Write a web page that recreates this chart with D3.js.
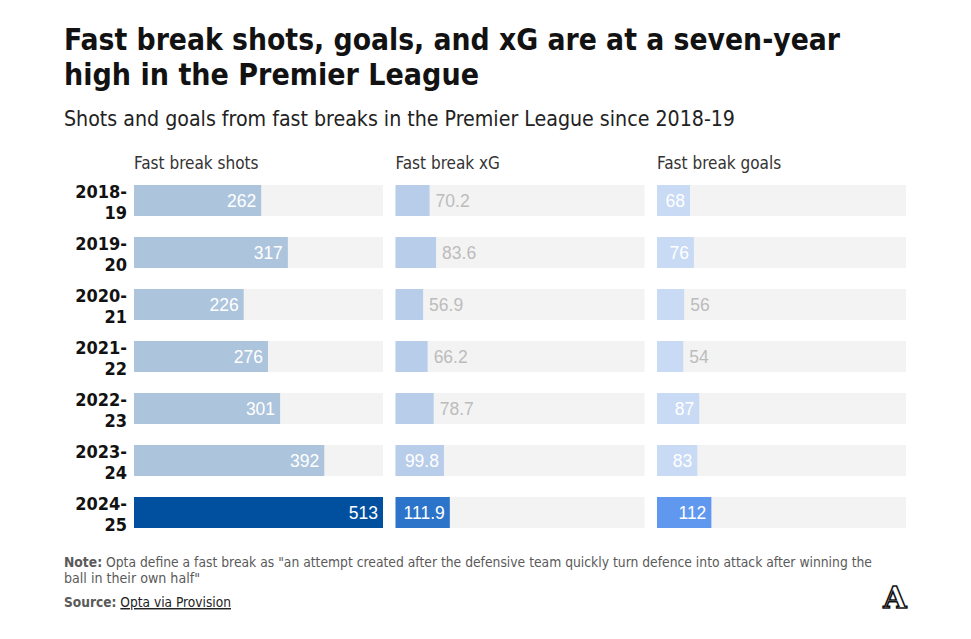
<!DOCTYPE html>
<html><head><meta charset="utf-8">
<script src="https://cdn.jsdelivr.net/npm/d3@7"></script>
<style>
body{margin:0;background:#fff;}
svg{display:block;}
</style></head>
<body>
<svg id="chart" width="971" height="639"></svg>
<script>
const seasons = ["2018-19","2019-20","2020-21","2021-22","2022-23","2023-24","2024-25"];
const shots = [262, 317, 226, 276, 301, 392, 513];
const xg = [70.2, 83.6, 56.9, 66.2, 78.7, 99.8, 111.9];
const goals = [68, 76, 56, 54, 87, 83, 112];
const xgLabels = ["70.2","83.6","56.9","66.2","78.7","99.8","111.9"];
const panelTitles = ["Fast break shots", "Fast break xG", "Fast break goals"];
const lightColors = ["#adc4dd", "#b8cde9", "#c8daf4"];
const darkColors = ["#00509f", "#2b74c9", "#5f98ee"];

const series = [
  {title: panelTitles[0], values: shots, labels: shots.map(String)},
  {title: panelTitles[1], values: xg, labels: xgLabels},
  {title: panelTitles[2], values: goals, labels: goals.map(String)}
];

const svg = d3.select("#chart");
const condensed = "'Liberation Sans Narrow', 'DejaVu Sans Condensed', sans-serif";

// fit a text element horizontally to a target width, keeping its height
function fit(sel, w) {
  const n = sel.node();
  if (n.getComputedTextLength() > 0) sel.attr("textLength", w).attr("lengthAdjust", "spacingAndGlyphs");
  return sel;
}

// Title
const t1 = svg.append("text").attr("x", 64).attr("y", 50)
  .attr("font-family", condensed).attr("font-weight", 700).attr("font-size", 30).attr("fill", "#121212")
  .text("Fast break shots, goals, and xG are at a seven-year");
fit(t1, 776);
const t2 = svg.append("text").attr("x", 64).attr("y", 85)
  .attr("font-family", condensed).attr("font-weight", 700).attr("font-size", 30).attr("fill", "#121212")
  .text("high in the Premier League");
fit(t2, 415);

const sub = svg.append("text").attr("x", 64).attr("y", 126)
  .attr("font-family", condensed).attr("font-size", 21.5).attr("fill", "#222")
  .text("Shots and goals from fast breaks in the Premier League since 2018-19");
fit(sub, 671);

const panelW = 249, panelGap = 12.5, panelX0 = 134;
const x = d3.scaleLinear().domain([0, d3.max(shots.concat(xg, goals))]).range([0, panelW]);
const y = d3.scaleBand().domain(seasons).range([185, 528]).paddingInner(21/52);
const px = d3.scaleBand().domain(d3.range(3)).range([panelX0, panelX0 + 3*panelW + 2*panelGap]).paddingInner(panelGap/(panelW+panelGap));

// Row labels
const rowG = svg.append("g");
seasons.forEach((s, i) => {
  const parts = s.split("-");
  const yc = y(s) + y.bandwidth()/2;
  rowG.append("text").attr("text-anchor", "end").attr("x", 127).attr("y", yc - 3)
    .attr("font-family", condensed).attr("font-weight", 700).attr("font-size", 18)
    .attr("fill", "#121212").text(parts[0] + "-");
  rowG.append("text").attr("text-anchor", "end").attr("x", 127).attr("y", yc + 18)
    .attr("font-family", condensed).attr("font-weight", 700).attr("font-size", 18)
    .attr("fill", "#121212").text(parts[1]);
});

const last = seasons[seasons.length - 1];

series.forEach((ser, k) => {
  const g = svg.append("g").attr("transform", `translate(${px(k)},0)`);
  g.append("text").attr("x", 0).attr("y", 169)
    .attr("font-family", condensed).attr("font-size", 17).attr("fill", "#333")
    .text(ser.title);
  const rows = g.selectAll("g.row").data(seasons.map((s, i) => ({s, v: ser.values[i], l: ser.labels[i]})))
    .join("g").attr("class", "row").attr("transform", d => `translate(0,${y(d.s)})`);
  rows.append("rect").attr("width", panelW).attr("height", y.bandwidth()).attr("fill", "#f3f3f3");
  rows.append("rect").attr("width", d => x(d.v)).attr("height", y.bandwidth())
    .attr("fill", d => d.s === last ? darkColors[k] : lightColors[k]);
  rows.each(function(d) {
    const row = d3.select(this);
    const t = row.append("text").attr("y", y.bandwidth()/2).attr("dy", "0.36em")
      .attr("font-family", "'Liberation Sans', Arial, sans-serif").attr("font-size", 17.5)
      .text(d.l);
    const w = t.node().getComputedTextLength();
    const bw = x(d.v);
    if (w + 10 <= bw) {
      t.attr("x", bw - 5).attr("text-anchor", "end").attr("fill", "#fff");
    } else {
      t.attr("x", bw + 6).attr("text-anchor", "start").attr("fill", "#bcbcbc");
    }
  });
});

// Footer
const note = svg.append("text").attr("x", 64).attr("y", 567).attr("font-family", condensed).attr("font-size", 14.5).attr("fill", "#5a5a5a");
note.append("tspan").attr("font-weight", 700).text("Note:");
note.append("tspan").text(" Opta define a fast break as \"an attempt created after the defensive team quickly turn defence into attack after winning the");
fit(note, 808);
const note2 = svg.append("text").attr("x", 64).attr("y", 583).attr("font-family", condensed).attr("font-size", 14.5).attr("fill", "#5a5a5a")
  .text("ball in their own half\"");
fit(note2, 136);
const src = svg.append("text").attr("x", 64).attr("y", 607).attr("font-family", condensed).attr("font-size", 14.5).attr("fill", "#5a5a5a");
src.append("tspan").attr("font-weight", 700).text("Source:");
src.append("tspan").text(" ");
src.append("tspan").attr("fill", "#222").attr("text-decoration", "underline").text("Opta via Provision");
fit(src, 167);

// Logo
svg.append("text").attr("x", 895).attr("y", 608).attr("text-anchor", "middle")
  .attr("font-family", "'DejaVu Serif', serif").attr("font-weight", 700).attr("font-size", 30)
  .attr("fill", "#fff").attr("stroke", "#111").attr("stroke-width", 1.6).text("A");
</script>
</body></html>
